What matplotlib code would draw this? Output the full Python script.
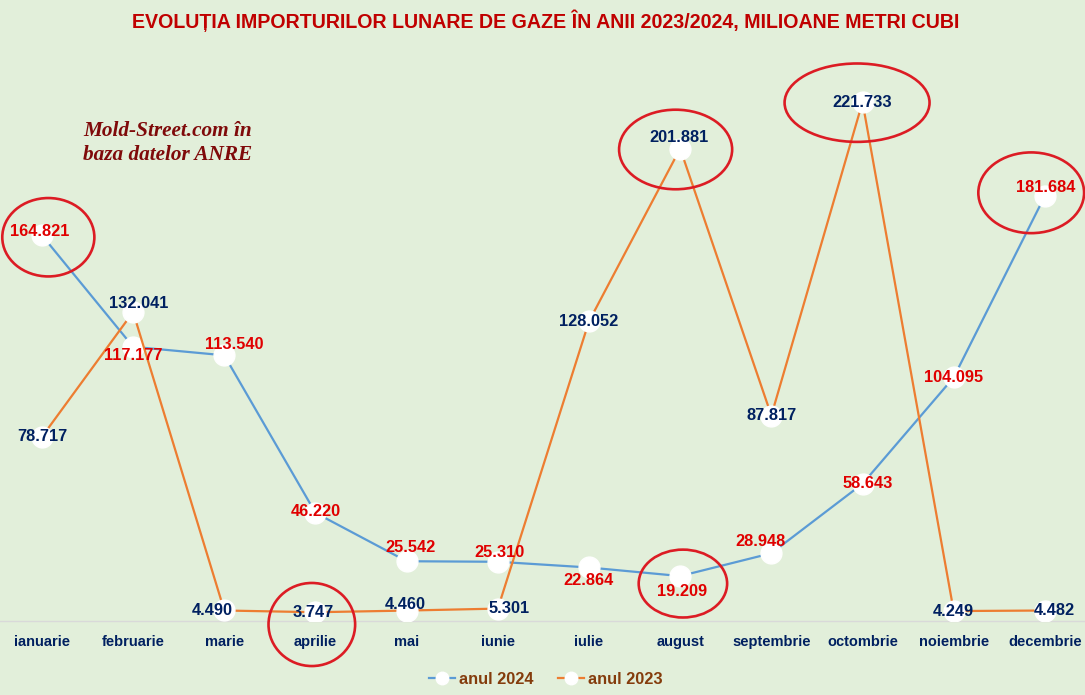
import numpy as np
import matplotlib.pyplot as plt
from matplotlib.patches import Ellipse
from matplotlib.lines import Line2D

# date
months = ["ianuarie", "februarie", "marie", "aprilie", "mai", "iunie",
          "iulie", "august", "septembrie", "octombrie", "noiembrie", "decembrie"]
anul_2024 = [164.821, 117.177, 113.540, 46.220, 25.542, 25.310,
             22.864, 19.209, 28.948, 58.643, 104.095, 181.684]
anul_2023 = [78.717, 132.041, 4.490, 3.747, 4.460, 5.301,
             128.052, 201.881, 87.817, 221.733, 4.249, 4.482]

# pozitia etichetelor fata de punct (pixeli)
off_2024 = [(-2, 4), (0, -9), (10, 11), (0, 1), (4, 14), (2, 9),
            (0, -13), (2, -15), (-11, 12), (5, 0), (0, 0), (1, 8)]
off_2023 = [(0, 0), (6, 9), (-12, 0), (-2, 0), (-1, 6), (11, 0),
            (0, 0), (-1, 11), (0, 0), (0, 0), (0, 0), (9, 0)]

# cercurile rosii: (luna, valoare centru, latime in categorii, inaltime in unitati)
circles = [(0.07, 164.0, 1.01, 33.5),
           (2.96, -1.5, 0.95, 35.5),
           (6.95, 201.5, 1.24, 34.0),
           (8.94, 221.5, 1.59, 33.5),
           (7.03, 16.0, 0.97, 29.0),
           (10.85, 183.0, 1.16, 34.5)]

BG = "#e2efda"
RED = "#e00000"
NAVY = "#002060"
BLUE = "#5b9bd5"
ORANGE = "#ed7d31"

plt.rcParams["font.family"] = ["Liberation Sans", "DejaVu Sans"]

fig = plt.figure(figsize=(10.85, 6.95), dpi=100, facecolor=BG)
ax = fig.add_axes([0, 1 - 621 / 695, 1, 585 / 695])
ax.set_facecolor(BG)

x = np.arange(len(months))
ax.plot(x, anul_2024, color=BLUE, lw=1.6, marker="o", ms=15,
        mfc="white", mec="white", zorder=3)
ax.plot(x, anul_2023, color=ORANGE, lw=1.6, marker="o", ms=15,
        mfc="white", mec="white", zorder=3)

for i, v in enumerate(anul_2024):
    ax.annotate(f"{v:.3f}", (i, v), xytext=off_2024[i], textcoords="offset pixels",
                ha="center", va="center", color=RED, fontsize=11.8,
                fontweight="bold", zorder=5)
for i, v in enumerate(anul_2023):
    ax.annotate(f"{v:.3f}", (i, v), xytext=off_2023[i], textcoords="offset pixels",
                ha="center", va="center", color=NAVY, fontsize=11.8,
                fontweight="bold", zorder=5)

for cx, cy, w, h in circles:
    ax.add_patch(Ellipse((cx, cy), w, h, fill=False, ec="#dc1c24", lw=1.9,
                         zorder=6, clip_on=False))

ax.set_xlim(-0.46, 11.44)
ax.set_ylim(0, 250)
ax.set_xticks(x)
ax.set_xticklabels(months, color=NAVY, fontsize=10.5, fontweight="bold")
ax.tick_params(axis="x", length=0, pad=10)
ax.set_yticks([])
for s in ["top", "right", "left"]:
    ax.spines[s].set_visible(False)
ax.spines["bottom"].set_color("#d9d9d9")
ax.spines["bottom"].set_linewidth(1)

fig.text(0.503, 1 - 21 / 695,
         "EVOLUȚIA IMPORTURILOR LUNARE DE GAZE ÎN ANII 2023/2024, MILIOANE METRI CUBI",
         ha="center", va="center", color="#c00000", fontsize=14.1, fontweight="bold")

fig.text(83 / 1085, 1 - 143 / 695, "Mold-Street.com în\nbaza datelor ANRE",
         ha="left", va="center", color="#7f0a0a", fontsize=15.3,
         fontweight="bold", fontstyle="italic", linespacing=1.25,
         family=["Liberation Serif", "DejaVu Serif"])

handles = [Line2D([], [], color=BLUE, lw=1.6, marker="o", ms=9,
                  mfc="white", mec="white"),
           Line2D([], [], color=ORANGE, lw=1.6, marker="o", ms=9,
                  mfc="white", mec="white")]
leg = fig.legend(handles, ["anul 2024", "anul 2023"], loc="center", ncol=2,
                 bbox_to_anchor=(0.503, 1 - 679 / 695), frameon=False,
                 handlelength=1.6, columnspacing=1.5, handletextpad=0.25,
                 prop={"weight": "bold", "size": 11.8})
for t in leg.get_texts():
    t.set_color("#843c0c")

fig.savefig("out.png", dpi=100, facecolor=BG)
